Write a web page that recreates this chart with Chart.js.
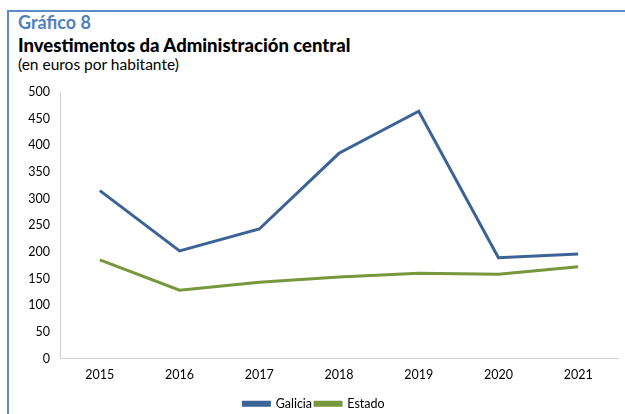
<!DOCTYPE html>
<html>
<head>
<meta charset="utf-8">
<script src="https://cdn.jsdelivr.net/npm/chart.js@4"></script>
<style>
  body { margin: 0; background: #fff; font-family: Lato, "Open Sans", sans-serif; overflow: hidden; }
  #frame { position: absolute; left: 7px; top: 10px; width: 618px; height: 404px;
           border-left: 2px solid #5b8bc9; border-top: 2px solid #5b8bc9; }
  #t1 { position: absolute; left: 18px; top: 11px; font-size: 18px; font-weight: bold; color: #4f81bd; }
  #t2 { position: absolute; left: 18px; top: 34px; font-size: 18.5px; font-weight: 900; color: #000; }
  #t3 { position: absolute; left: 18px; top: 55px; font-size: 15.5px; color: #000; }
  #wrap { position: absolute; left: 10px; top: 80px; width: 615px; height: 340px; }
</style>
</head>
<body>
<div id="frame"></div>
<div id="t1">Gráfico 8</div>
<div id="t2">Investimentos da Administración central</div>
<div id="t3">(en euros por habitante)</div>
<div id="wrap"><canvas id="chart"></canvas></div>
<script>
const years = ['2015', '2016', '2017', '2018', '2019', '2020', '2021'];
const galicia = [315, 202, 243, 385, 464, 189, 196];
const estado = [185, 128, 143, 153, 160, 158, 172];

document.addEventListener('DOMContentLoaded', () => {
    const ctx = document.getElementById('chart').getContext('2d');
    Chart.defaults.font.family = 'Lato, "Open Sans", sans-serif';
    Chart.defaults.color = '#000';

    new Chart(ctx, {
        type: 'line',
        data: {
            labels: years,
            datasets: [{
                label: 'Galicia',
                data: galicia,
                borderColor: '#3b6396',
                backgroundColor: '#3b6396',
                borderWidth: 3,
                pointRadius: 0,
                tension: 0
            }, {
                label: 'Estado',
                data: estado,
                borderColor: '#77973d',
                backgroundColor: '#77973d',
                borderWidth: 3,
                pointRadius: 0,
                tension: 0
            }]
        },
        options: {
            responsive: true,
            maintainAspectRatio: false,
            animation: false,
            layout: { padding: { top: 12, right: 7, left: 0, bottom: 0 } },
            plugins: {
                tooltip: { enabled: false },
                legend: {
                    position: 'bottom',
                    labels: {
                        boxWidth: 26,
                        boxHeight: 3,
                        padding: 3,
                        font: { size: 12.5 }
                    }
                }
            },
            scales: {
                x: {
                    offset: true,
                    grid: { display: false, drawTicks: false },
                    border: { color: '#d0d0d0', width: 1 },
                    ticks: { font: { size: 12.5 }, padding: 9 },
                    afterFit: scale => { scale.height = 36; }
                },
                y: {
                    min: 0,
                    max: 500,
                    grid: { display: false, drawTicks: false },
                    border: { color: '#d0d0d0', width: 1 },
                    ticks: { stepSize: 50, font: { size: 12.5 }, padding: 10 },
                    afterFit: scale => {
                        scale.width = 50;
                        scale.paddingTop = 0;
                        scale.paddingBottom = 0;
                    }
                }
            }
        }
    });
});
</script>
</body>
</html>
